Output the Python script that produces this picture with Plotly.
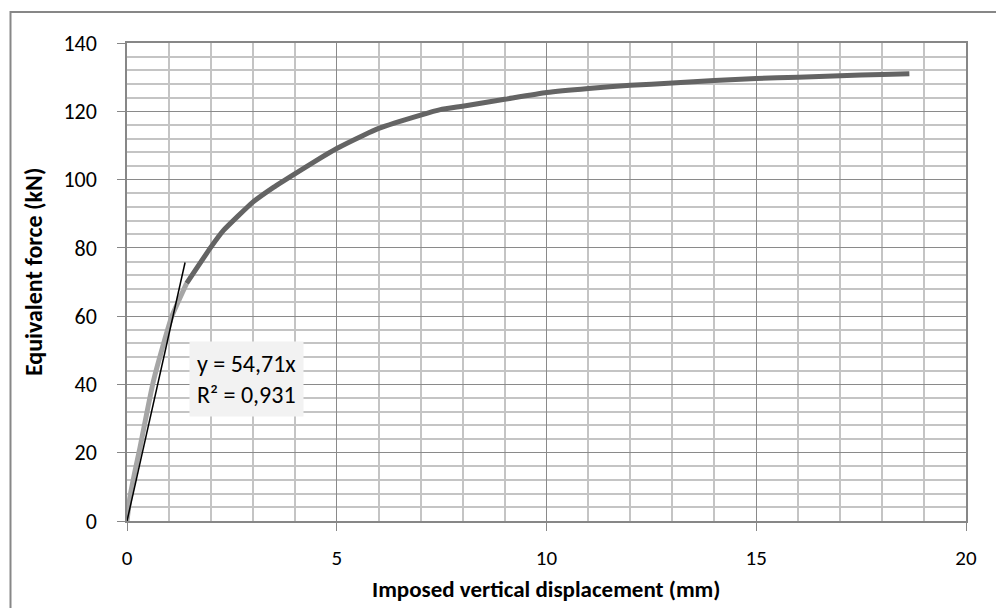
import plotly.graph_objects as go

# Initial (light gray) segment
x_init = [0, 0.07, 0.18, 0.31, 0.47, 0.63, 0.85, 1.07, 1.25, 1.42]
y_init = [0, 7, 14, 21.5, 31.5, 41, 51, 60, 65, 69.6]

# Main (dark gray) curve
x_main = [1.42, 2.0, 2.3, 3.0, 3.5, 4.0, 4.5, 5.0, 5.64, 6.0, 7.0, 7.47,
          8.0, 9.0, 10.0, 11.0, 12.0, 13.0, 14.0, 15.0, 16.0, 17.0, 18.0, 18.65]
y_main = [69.6, 80.2, 85.1, 93.4, 97.8, 101.7, 105.5, 109.1, 113.0, 115.0, 118.9, 120.5,
          121.5, 123.5, 125.5, 126.7, 127.6, 128.3, 129.0, 129.6, 130.0, 130.4, 130.8, 131.0]

# Linear trendline through origin
slope = 54.71
x_trend = [0, 1.384]
y_trend = [slope * v for v in x_trend]
trend_label = "y = 54,71x<br>R² = 0,931"

x_title = "Imposed vertical displacement (mm)"
y_title = "Equivalent force (kN)"

FONT = "Carlito, Calibri, Lato, 'Open Sans', sans-serif"

fig = go.Figure()
fig.add_trace(go.Scatter(x=x_main, y=y_main, mode="lines",
                         line=dict(color="#646464", width=5, shape="spline", smoothing=0.4),
                         showlegend=False))
fig.add_trace(go.Scatter(x=x_init, y=y_init, mode="lines",
                         line=dict(color="#a6a6a6", width=5, shape="spline", smoothing=0.4),
                         showlegend=False))
fig.add_trace(go.Scatter(x=x_trend, y=y_trend, mode="lines",
                         line=dict(color="#000000", width=1.5), showlegend=False))

fig.add_annotation(x=2.84, y=41.5, xref="x", yref="y", text=trend_label,
                   showarrow=False, bgcolor="#f2f2f2", align="left",
                   font=dict(family=FONT, size=24, color="#000"),
                   borderpad=7)

# layout geometry (pixels)
L, R, T, B = 127, 30, 43, 87
W, H = 996, 608
pw, ph = W - L - R, H - T - B

# axis titles
fig.add_annotation(x=(546 - L) / pw, y=((H - B) - 589) / ph, xref="paper", yref="paper",
                   text="<b>" + x_title + "</b>", showarrow=False,
                   xanchor="center", yanchor="middle",
                   font=dict(family=FONT, size=23, color="#000"))
fig.add_annotation(x=(33 - L) / pw, y=((H - B) - 272) / ph, xref="paper", yref="paper",
                   text="<b>" + y_title + "</b>", showarrow=False, textangle=-90,
                   xanchor="center", yanchor="middle",
                   font=dict(family=FONT, size=24, color="#000"))

# outer chart frame
fig.add_shape(type="rect", xref="paper", yref="paper",
              x0=(10.5 - L) / pw, x1=(1010 - L) / pw,
              y0=((H - B) - 620) / ph, y1=1 + (T - 12) / ph,
              line=dict(color="#878787", width=2), fillcolor="rgba(0,0,0,0)", layer="below")

fig.update_layout(
    width=W, height=H,
    margin=dict(l=L, r=R, t=T, b=B, autoexpand=False),
    paper_bgcolor="white", plot_bgcolor="white",
    font=dict(family=FONT, size=22, color="#000"),
    xaxis=dict(range=[0, 20], dtick=5, tick0=0, automargin=False,
               showgrid=True, gridcolor="#8a8a8a", gridwidth=1,
               minor=dict(dtick=1, showgrid=True, gridcolor="#c4c4c4", gridwidth=1.5, ticks=""),
               showline=True, linecolor="#878787", linewidth=1.5, mirror=True,
               ticks="outside", ticklen=8, tickcolor="#878787",
               zeroline=False, ticklabelstandoff=9,
               tickfont=dict(size=21)),
    yaxis=dict(range=[0, 140], dtick=20, tick0=0, automargin=False,
               showgrid=True, gridcolor="#8a8a8a", gridwidth=1,
               minor=dict(dtick=4, showgrid=True, gridcolor="#c4c4c4", gridwidth=1.5, ticks=""),
               showline=True, linecolor="#878787", linewidth=1.5, mirror=True,
               ticks="outside", ticklen=8, tickcolor="#878787",
               zeroline=False, ticklabelstandoff=16,
               tickfont=dict(size=22)),
)

fig.write_html("out.html", config={"displayModeBar": False},
               post_script="document.body.style.margin='0';document.body.style.overflow='hidden';")
